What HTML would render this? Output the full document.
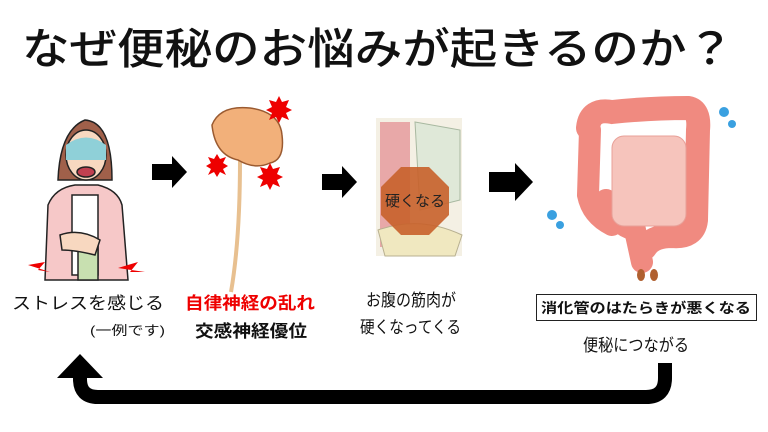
<!DOCTYPE html>
<html><head><meta charset="utf-8"><style>
html,body{margin:0;padding:0;background:#fff;}
svg{display:block;}
text{font-family:"Liberation Sans","Noto Sans CJK JP",sans-serif;}
</style></head><body>
<svg width="768" height="432" viewBox="0 0 768 432" xmlns="http://www.w3.org/2000/svg">
<rect width="768" height="432" fill="#fff"/>
<text x="22" y="64" font-size="43" font-weight="500" fill="#111" textLength="712" lengthAdjust="spacingAndGlyphs">なぜ便秘のお悩みが起きるのか？</text>

<!-- woman -->
<g stroke="#222" stroke-width="1.5">
<path d="M58 180 Q60 130 85 120 Q112 122 112 180 Z" fill="#a0604a"/>
<path d="M45 280 L48 205 Q55 188 75 185 L98 185 Q118 190 122 205 L128 280 Z" fill="#f6c8c8"/>
<rect x="72" y="195" width="26" height="80" fill="#fff"/>
<rect x="78" y="245" width="20" height="35" fill="#c8e0b0"/>
<ellipse cx="86" cy="155" rx="20" ry="25" fill="#f8d8c0"/>
<path d="M66 145 Q86 130 106 145 L106 160 L66 160 Z" fill="#8fd0d8" stroke="none"/>
<ellipse cx="86" cy="172" rx="9" ry="5" fill="#c04050"/>
<path d="M60 235 Q80 228 100 240 L95 255 Q75 250 62 250 Z" fill="#f8d8c0"/>
</g>
<g fill="#e00">
<polygon points="28,265 45,262 38,270 50,272"/><polygon points="118,268 138,262 130,272 145,272"/>
</g>

<!-- arrows -->
<polygon points="152,164 172,164 172,156 187,172 172,188 172,180 152,180" fill="#000"/>
<polygon points="322,174 342,174 342,166 357,182 342,198 342,190 322,190" fill="#000"/>
<polygon points="489,172 515,172 515,163 533,182 515,201 515,192 489,192" fill="#000"/>

<!-- brain -->
<path d="M240 160 Q240 240 231 292" stroke="#e8c090" stroke-width="4" fill="none"/>
<path d="M212 125 Q220 105 250 108 Q280 112 282 135 Q285 160 270 163 Q255 170 238 160 Q215 155 212 125 Z" fill="#f2b07a" stroke="#9a5a30" stroke-width="1.5"/>
<g fill="#ee0000">
<polygon points="279,96 282,102 289,100 286,107 292,110 286,113 289,120 282,117 279,123 276,117 269,120 272,113 266,110 272,107 269,100 276,102"/>
<polygon points="217,154 220,159 226,157 223,163 228,166 223,169 226,175 220,172 217,177 214,172 208,175 211,169 206,166 211,163 208,157 214,159"/>
<polygon points="270,163 273,169 280,167 277,174 283,177 277,180 280,187 273,184 270,190 267,184 260,187 263,180 257,177 263,174 260,167 267,169"/>
</g>

<!-- abdomen -->
<rect x="376" y="118" width="86" height="138" fill="#f4f0e4"/>
<rect x="380" y="122" width="30" height="125" fill="#e8a8a8"/>
<path d="M415 122 L460 130 L460 200 L420 210 Z" fill="#dfe8d8" stroke="#a8b8a0"/>
<path d="M378 230 Q420 215 462 235 L455 256 L385 256 Z" fill="#f0e8c0" stroke="#b8b090"/>
<polygon points="401,167 429,167 449,187 449,215 429,235 401,235 381,215 381,187" fill="#c8602a" opacity="0.9"/>
<text x="415" y="206" font-size="15" fill="#222" text-anchor="middle">硬くなる</text>

<!-- intestine -->
<path d="M606 200 Q615 225 635 230 L642 262 M590 130 L588 195 Q592 215 612 225" stroke="#f08a80" stroke-width="22" fill="none" stroke-linecap="round"/>
<path d="M588 128 Q590 108 612 112 Q650 108 688 108 Q700 110 698 130 L696 220 Q694 238 672 236 Q652 236 645 248" stroke="#f08a80" stroke-width="24" fill="none" stroke-linecap="round"/>
<path d="M640 240 L642 262" stroke="#f08a80" stroke-width="10" stroke-linecap="round"/>
<rect x="612" y="136" width="74" height="90" rx="12" fill="#f6c4bc" stroke="#e8a098"/>
<g fill="#b06030"><ellipse cx="641" cy="275" rx="4" ry="6"/><ellipse cx="654" cy="275" rx="4" ry="6"/></g>
<g fill="#3aa0e0"><circle cx="724" cy="112" r="5"/><circle cx="732" cy="124" r="4"/><circle cx="552" cy="215" r="5"/><circle cx="560" cy="225" r="4"/></g>

<!-- labels -->
<text x="12" y="309" font-size="17" fill="#111" textLength="152" lengthAdjust="spacingAndGlyphs">ストレスを感じる</text>
<text x="90" y="335" font-size="13" fill="#111" textLength="75" lengthAdjust="spacingAndGlyphs">(一例です)</text>
<text x="185" y="309" font-size="17" font-weight="bold" fill="#e00" textLength="130" lengthAdjust="spacingAndGlyphs">自律神経の乱れ</text>
<text x="195" y="337" font-size="17" font-weight="bold" fill="#111" textLength="112" lengthAdjust="spacingAndGlyphs">交感神経優位</text>
<text x="366" y="306" font-size="17" fill="#111" textLength="90" lengthAdjust="spacingAndGlyphs">お腹の筋肉が</text>
<text x="360" y="333" font-size="17" fill="#111" textLength="101" lengthAdjust="spacingAndGlyphs">硬くなってくる</text>
<rect x="536.5" y="294.5" width="220" height="26" fill="#fff" stroke="#222" stroke-width="1"/>
<text x="541" y="313" font-size="14" font-weight="bold" fill="#111" textLength="210" lengthAdjust="spacingAndGlyphs">消化管のはたらきが悪くなる</text>
<text x="583" y="351" font-size="17" fill="#111" textLength="106" lengthAdjust="spacingAndGlyphs">便秘につながる</text>

<!-- return arrow -->
<path d="M665 363 L665 378 Q665 397 646 397 L98 397 Q80 397 80 379 L80 374" stroke="#000" stroke-width="14" fill="none"/>
<polygon points="80,354 57,378 103,378" fill="#000"/>
</svg>
</body></html>
